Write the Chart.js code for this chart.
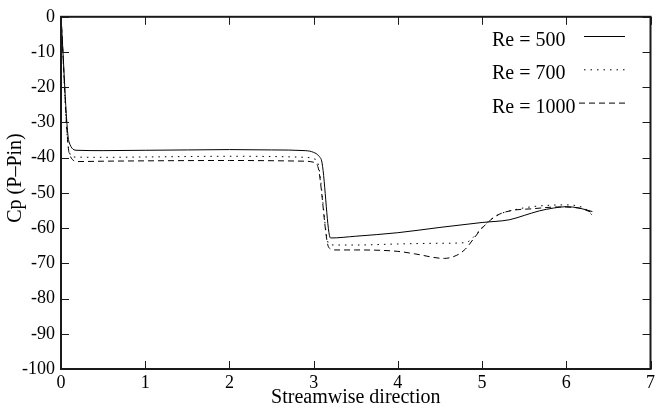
<!DOCTYPE html>
<html>
<head>
<meta charset="utf-8">
<script src="https://cdn.jsdelivr.net/npm/chart.js@4"></script>
<style>
  html, body { margin: 0; padding: 0; background: #fff; }
  canvas { display: block; }
</style>
</head>
<body>
<canvas id="cpChart" width="658" height="413"></canvas>
<script>
// values
const re500X = [0, 0.095, 0.19, 0.5, 1.0, 1.5, 2.0, 2.5, 2.9, 3.0, 3.06, 3.1, 3.2, 3.5, 4.0, 4.5, 5.0, 5.33, 5.5, 5.68, 5.85, 6.0, 6.15, 6.31];
const re500Y = [0, -35.5, -37.9, -38.0, -37.9, -37.8, -37.7, -37.8, -38.0, -38.5, -39.5, -41.5, -62.8, -62.3, -61.3, -59.8, -58.4, -57.6, -56.4, -55.1, -54.3, -53.9, -54.3, -55.3];

const re700X = [0, 0.087, 0.146, 0.5, 1.0, 2.0, 2.9, 3.0, 3.05, 3.18, 3.25, 3.5, 4.0, 4.5, 4.81, 4.87, 5.0, 5.1, 5.21, 5.33, 5.6, 6.0, 6.15, 6.24, 6.33];
const re700Y = [0, -37.0, -39.8, -39.9, -39.8, -39.6, -39.9, -40.3, -41.5, -64.5, -64.8, -64.8, -64.5, -64.3, -64.1, -63.2, -59.8, -57.6, -56.0, -55.1, -53.9, -53.4, -53.8, -54.7, -57.0];

const re1000X = [0, 0.1, 0.2, 0.5, 1.0, 2.0, 2.9, 3.0, 3.05, 3.18, 3.25, 3.5, 4.0, 4.2, 4.55, 4.7, 4.8, 4.9, 5.0, 5.17, 5.33, 5.6, 5.9, 6.15, 6.31];
const re1000Y = [0, -39.0, -41.1, -41.0, -40.9, -40.8, -41.0, -41.3, -42.5, -65.5, -66.2, -66.2, -66.6, -67.3, -68.6, -67.7, -66.0, -63.0, -60.0, -56.5, -55.1, -54.5, -54.0, -54.3, -55.6];

const seriesLabels = ['Re = 500', 'Re = 700', 'Re = 1000'];
const xTicks = [0, 1, 2, 3, 4, 5, 6, 7];
const yTicks = [0, -10, -20, -30, -40, -50, -60, -70, -80, -90, -100];

const xTitle = 'Streamwise direction';
const yTitle = 'Cp (P–Pin)';

const FONT = '"Liberation Serif", "Times New Roman", serif';

function pts(xs, ys) {
  return xs.map((x, i) => ({ x: x, y: ys[i] }));
}

// box, inward ticks on all four sides, y title and legend
const framePlugin = {
  id: 'frame',
  afterDraw(chart) {
    const c = chart.ctx;
    const a = chart.chartArea;
    const xs = chart.scales.x;
    const ys = chart.scales.y;
    const tl = 8;
    c.save();
    c.strokeStyle = '#1a1a1a';
    c.lineWidth = 2;
    c.strokeRect(a.left, a.top, a.right - a.left, a.bottom - a.top);
    c.lineWidth = 1;
    c.beginPath();
    xTicks.forEach(v => {
      const px = Math.round(xs.getPixelForValue(v)) + 0.5;
      c.moveTo(px, a.bottom); c.lineTo(px, a.bottom - tl);
      c.moveTo(px, a.top); c.lineTo(px, a.top + tl);
    });
    yTicks.forEach(v => {
      const py = Math.round(ys.getPixelForValue(v)) + 0.5;
      c.moveTo(a.left, py); c.lineTo(a.left + tl, py);
      c.moveTo(a.right, py); c.lineTo(a.right - tl, py);
    });
    c.stroke();

    // y axis title
    c.fillStyle = '#000';
    c.font = '20px ' + FONT;
    c.textAlign = 'center';
    c.textBaseline = 'middle';
    c.translate(16, 178);
    c.rotate(-Math.PI / 2);
    c.fillText(yTitle, 0, 0);
    c.restore();

    // legend
    c.save();
    c.font = '20px ' + FONT;
    c.fillStyle = '#000';
    c.textAlign = 'left';
    c.textBaseline = 'alphabetic';
    chart.data.datasets.forEach((ds, i) => {
      const base = 46 + i * 33.3;
      c.fillText(ds.label, 492, base);
      c.strokeStyle = ds.borderColor;
      c.lineWidth = ds.borderWidth;
      c.setLineDash(ds.borderDash || []);
      c.beginPath();
      c.moveTo(i === 2 ? 579 : 584, base - 9.5);
      c.lineTo(625, base - 9.5);
      c.stroke();
    });
    c.restore();
  }
};

const ctx = document.getElementById('cpChart').getContext('2d');
const cpChart = new Chart(ctx, {
  type: 'line',
  data: {
    datasets: [
      {
        label: seriesLabels[0],
        data: pts(re500X, re500Y),
        borderColor: '#000',
        borderWidth: 1,
        borderDash: []
      },
      {
        label: seriesLabels[1],
        data: pts(re700X, re700Y),
        borderColor: '#000',
        borderWidth: 1,
        borderDash: [1.5, 5]
      },
      {
        label: seriesLabels[2],
        data: pts(re1000X, re1000Y),
        borderColor: '#000',
        borderWidth: 1,
        borderDash: [6, 4]
      }
    ]
  },
  options: {
    responsive: false,
    animation: false,
    events: [],
    cubicInterpolationMode: 'monotone',
    elements: { point: { radius: 0 } },
    layout: { padding: { top: 11, right: 6, left: 0, bottom: 0 } },
    plugins: {
      legend: { display: false },
      tooltip: { enabled: false }
    },
    scales: {
      x: {
        type: 'linear',
        min: 0,
        max: 7,
        afterFit(s) { s.height = 44; },
        afterBuildTicks(s) { s.ticks = xTicks.map(v => ({ value: v })); },
        grid: { display: false, drawTicks: false },
        border: { display: false },
        ticks: {
          color: '#000',
          padding: 3,
          maxRotation: 0,
          font: { family: FONT, size: 18 }
        },
        title: {
          display: true,
          text: xTitle,
          color: '#000',
          padding: { top: 0, bottom: 3 },
          font: { family: FONT, size: 20 }
        }
      },
      y: {
        min: -100,
        max: 0,
        afterFit(s) { s.width = 61; },
        afterBuildTicks(s) { s.ticks = yTicks.map(v => ({ value: v })); },
        grid: { display: false, drawTicks: false },
        border: { display: false },
        ticks: {
          color: '#000',
          padding: 6,
          font: { family: FONT, size: 18 }
        }
      }
    }
  },
  plugins: [framePlugin]
});
</script>
</body>
</html>
